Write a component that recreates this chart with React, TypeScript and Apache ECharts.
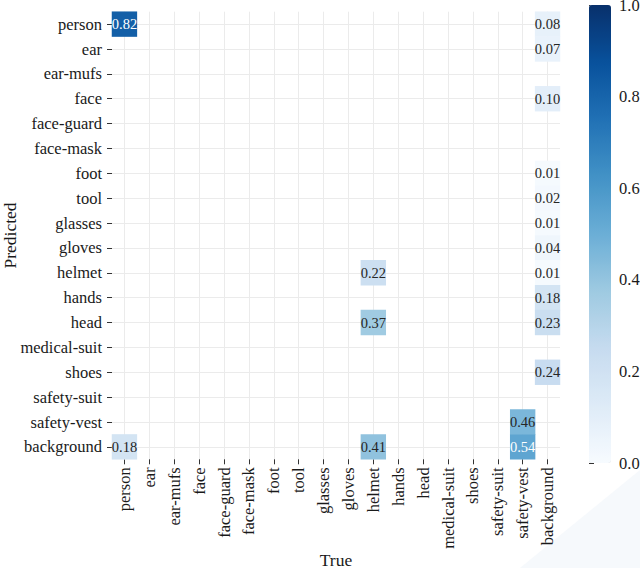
import React, { useEffect, useRef } from "react";
import * as echarts from "echarts";

const categories = [
  "person", "ear", "ear-mufs", "face", "face-guard", "face-mask", "foot", "tool",
  "glasses", "gloves", "helmet", "hands", "head", "medical-suit", "shoes",
  "safety-suit", "safety-vest", "background",
];

// non-zero cells of the confusion matrix
const cellTrue = [
  "person", "background", "background", "background", "background", "background",
  "background", "background", "helmet", "background", "background", "helmet",
  "background", "background", "safety-vest", "person", "helmet", "safety-vest",
];
const cellPred = [
  "person", "person", "ear", "face", "foot", "tool", "glasses", "gloves", "helmet",
  "helmet", "hands", "head", "head", "shoes", "safety-vest", "background",
  "background", "background",
];
const cellValue = [
  0.82, 0.08, 0.07, 0.10, 0.01, 0.02, 0.01, 0.04, 0.22, 0.01, 0.18, 0.37, 0.23,
  0.24, 0.46, 0.18, 0.41, 0.54,
];

const colorbarTicks = [0, 0.2, 0.4, 0.6, 0.8, 1.0];

const BLUES = [
  "#f7fbff", "#deebf7", "#c6dbef", "#9ecae1", "#6baed6", "#4292c6", "#2171b5",
  "#08519c", "#08306b",
];
const FONT = "'Liberation Serif', 'Times New Roman', serif";
const TXT = "#1a1a1a";
const FS = 16.5;
const NFS = 17.5;

export default function App() {
  const ref = useRef<HTMLDivElement>(null);
  useEffect(() => {
    if (!ref.current) return;
    const chart = echarts.init(ref.current, null, { renderer: "svg" });
    const data = cellValue.map((v, i) => ({
      value: [categories.indexOf(cellTrue[i]), categories.indexOf(cellPred[i]), v],
      label: { color: v > 0.5 ? "#ffffff" : "#262626" },
    }));
    chart.setOption({
      animation: false,
      backgroundColor: "#ffffff",
      textStyle: { fontFamily: FONT },
      grid: [
        { left: 112, top: 11.7, width: 448, height: 447.6, outerBoundsMode: "none", containLabel: false },
        { left: 589, top: 5, width: 22, height: 458, outerBoundsMode: "none", containLabel: false },
      ],
      xAxis: [
        {
          type: "category",
          gridIndex: 0,
          data: categories,
          position: "bottom",
          name: "True",
          nameLocation: "middle",
          nameGap: 92,
          nameMoveOverlap: false,
          nameTextStyle: { fontSize: NFS, color: TXT, fontFamily: FONT },
          axisLine: { show: false },
          axisTick: { show: true, alignWithLabel: true, length: 5, lineStyle: { color: "#333" } },
          axisLabel: { rotate: 90, fontSize: FS, color: TXT, fontFamily: FONT, margin: 8, interval: 0 },
          splitLine: { show: false },
        },
        {
          type: "value",
          gridIndex: 0,
          min: 0,
          max: 18,
          interval: 0.5,
          show: true,
          axisLine: { show: false },
          axisTick: { show: false },
          axisLabel: { show: false },
          splitLine: { show: true, lineStyle: { color: ["rgba(0,0,0,0)", "#ebebeb"], width: 1 } },
        },
        { type: "value", gridIndex: 1, show: false, min: 0, max: 1 },
      ],
      yAxis: [
        {
          type: "category",
          gridIndex: 0,
          data: categories,
          inverse: true,
          name: "Predicted",
          nameLocation: "middle",
          nameGap: 93,
          nameMoveOverlap: false,
          nameTextStyle: { fontSize: NFS, color: TXT, fontFamily: FONT },
          axisLine: { show: false },
          axisTick: { show: true, alignWithLabel: true, length: 5, lineStyle: { color: "#333" } },
          axisLabel: { fontSize: FS, color: TXT, fontFamily: FONT, margin: 10, interval: 0 },
          splitLine: { show: false },
        },
        {
          type: "value",
          gridIndex: 0,
          min: 0,
          max: 18,
          interval: 0.5,
          show: true,
          axisLine: { show: false },
          axisTick: { show: false },
          axisLabel: { show: false },
          splitLine: { show: true, lineStyle: { color: ["rgba(0,0,0,0)", "#ebebeb"], width: 1 } },
        },
        {
          type: "value",
          gridIndex: 1,
          min: 0,
          max: 1,
          interval: 0.2,
          position: "right",
          axisLine: { show: false },
          axisTick: { show: true, length: 5, lineStyle: { color: "#333" } },
          axisLabel: {
            fontSize: FS,
            color: TXT,
            fontFamily: FONT,
            margin: 8,
            formatter: (v: number) => v.toFixed(1),
          },
          splitLine: { show: false },
          data: colorbarTicks,
        },
      ],
      visualMap: {
        type: "continuous",
        min: 0,
        max: 1,
        calculable: false,
        orient: "vertical",
        left: 589,
        top: 5,
        itemWidth: 22,
        itemHeight: 458,
        padding: 0,
        inRange: { color: BLUES },
        seriesIndex: 0,
        hoverLink: false,
      },
      graphic: [
        {
          type: "polygon",
          z: -10,
          silent: true,
          shape: { points: [[520, 568], [640, 470], [640, 568]] },
          style: { fill: "#f6f9fc" },
        },
      ],
      series: [
        {
          type: "heatmap",
          xAxisIndex: 0,
          yAxisIndex: 0,
          data,
          label: {
            show: true,
            fontSize: 14.5,
            fontFamily: FONT,
            formatter: (p: any) => p.value[2].toFixed(2),
          },
          itemStyle: { borderWidth: 0 },
          emphasis: { disabled: true },
        },
      ],
    });
    return () => chart.dispose();
  }, []);
  return (
    <div
      ref={ref}
      style={{ position: "fixed", left: 0, top: 0, width: 640, height: 568 }}
    />
  );
}
